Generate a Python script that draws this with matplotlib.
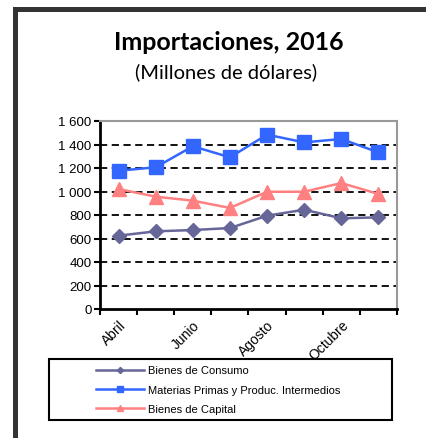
import numpy as np
import matplotlib
matplotlib.use('Agg')
import matplotlib.pyplot as plt
from matplotlib.patches import Rectangle
from matplotlib.ticker import FuncFormatter

meses = ['Abril', 'Mayo', 'Junio', 'Julio', 'Agosto', 'Septiembre', 'Octubre', 'Noviembre']
consumo = [624, 661, 672, 689, 794, 845, 772, 780]
materias = [1177, 1206, 1385, 1291, 1484, 1418, 1447, 1333]
capital = [1021, 956, 922, 860, 998, 998, 1072, 979]

W, H = 427, 439
fig = plt.figure(figsize=(W / 100, H / 100), dpi=100)
plt.rcParams['font.family'] = ['Liberation Sans', 'DejaVu Sans']

# marco gris oscuro arriba y a la izquierda
fig.add_artist(Rectangle((13 / W, 1 - 13 / H), 1, 5 / H, transform=fig.transFigure,
                         color='#333333', lw=0))
fig.add_artist(Rectangle((13 / W, 0), 5 / W, 1 - 8 / H, transform=fig.transFigure,
                         color='#333333', lw=0))
# caja de la leyenda
fig.add_artist(Rectangle((49 / W, 1 - 421 / H), 343 / W, 61 / H, transform=fig.transFigure,
                         facecolor='white', edgecolor='black', lw=1.5))

ax = fig.add_axes([100 / W, 1 - 310 / H, 297 / W, 188 / H])
x = np.arange(len(meses))
ax.plot(x, consumo, color='#666699', marker='D', ms=7, lw=1.8, label='Bienes de Consumo')
ax.plot(x, materias, color='#3366FF', marker='s', ms=10, lw=1.8,
        label='Materias Primas y Produc. Intermedios')
ax.plot(x, capital, color='#FF8080', marker='^', ms=10, lw=1.8, label='Bienes de Capital')

ax.set_xlim(-0.5, len(meses) - 0.5)
ax.set_ylim(0, 1600)
ax.set_yticks(np.arange(0, 1601, 200))
ax.yaxis.set_major_formatter(FuncFormatter(lambda v, p: f'{int(v):,}'.replace(',', ' ')))
for v in range(200, 1600, 200):
    ax.axhline(v, color='black', ls=(0, (4, 2.5)), lw=1.3, zorder=0)

ax.set_xticks(x[::2])
ax.set_xticklabels(meses[::2], rotation=45, ha='right', rotation_mode='anchor')
ax.set_xticks(np.arange(-0.5, len(meses)), minor=True)
ax.tick_params(axis='x', which='major', length=0, labelsize=10, pad=6)
ax.tick_params(axis='x', which='minor', length=4, width=1.5, direction='out')
ax.tick_params(axis='y', length=4, width=1.5, labelsize=9.5, pad=2)

for s in ['left', 'bottom']:
    ax.spines[s].set_linewidth(2)
for s in ['top', 'right']:
    ax.spines[s].set_color('#999999')
    ax.spines[s].set_linewidth(1.5)

fig.text(229 / W, 1 - 42 / H, 'Importaciones, 2016', ha='center', va='center',
         fontsize=18, fontweight='bold', family=['Lato', 'DejaVu Sans'])
fig.text(226 / W, 1 - 72 / H, '(Millones de dólares)', ha='center', va='center',
         fontsize=14.5, family=['Lato', 'DejaVu Sans'])

h, l = ax.get_legend_handles_labels()
leg = fig.legend(h, l, loc='center left', bbox_to_anchor=(96 / W, 1 - 390.5 / H),
                 fontsize=8, frameon=False, borderpad=0, handlelength=4.3,
                 markerscale=0.45, labelspacing=0.82, borderaxespad=0, handletextpad=0.4)

fig.savefig('out.png', dpi=100)
